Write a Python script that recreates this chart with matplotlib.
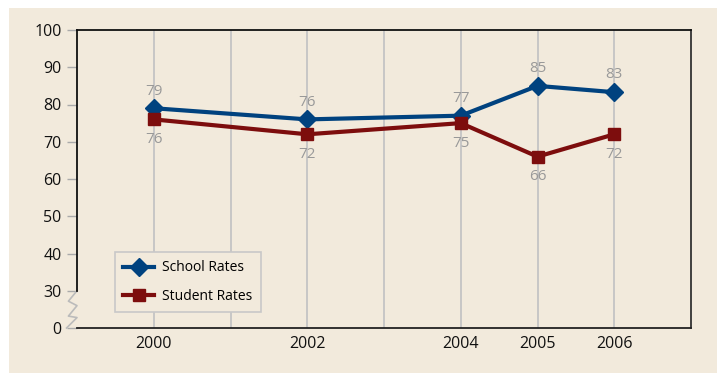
"""School vs student rates, 2000-2006, with broken y axis."""

import matplotlib
matplotlib.use("Agg")
import matplotlib.pyplot as plt
import matplotlib.transforms as mtransforms
from matplotlib.patches import Rectangle

# ---------------------------------------------------------------------------
# Data
# ---------------------------------------------------------------------------

YEARS         = [2000, 2002, 2004, 2005, 2006]
SCHOOL_RATES  = [79, 76, 77, 85, 83.3]
STUDENT_RATES = [76, 72, 75, 66, 72]
SCHOOL_LABELS  = ["79", "76", "77", "85", "83"]
STUDENT_LABELS = ["76", "72", "75", "66", "72"]

GRID_YEARS  = [2000, 2001, 2002, 2003, 2004, 2005, 2006]
Y_TICKS     = [20, 30, 40, 50, 60, 70, 80, 90, 100]   # 20 stands in for 0
Y_TICK_TXT  = ["0", "30", "40", "50", "60", "70", "80", "90", "100"]

BEIGE = "#f2eadc"
BLUE  = "#00427f"
RED   = "#7d0d0d"
GREY  = "#999999"

plt.rcParams["font.family"] = ["Open Sans", "DejaVu Sans"]

# ---------------------------------------------------------------------------
# Figure
# ---------------------------------------------------------------------------

fig = plt.figure(figsize=(7.17, 3.73), dpi=100, facecolor="white")
bg = Rectangle((9 / 717, 0), 1 - 9 / 717, 365 / 373,
               transform=fig.transFigure, facecolor=BEIGE,
               edgecolor="none", zorder=-10)
fig.add_artist(bg)

ax = fig.add_axes([77 / 717, 45 / 373, 614 / 717, 298 / 373])
ax.set_facecolor(BEIGE)
ax.set_xlim(1999, 2007)
ax.set_ylim(20, 100)

for yr in GRID_YEARS:
    ax.axvline(yr, color="#c4c4c4", linewidth=1.3, zorder=1)

ax.plot(YEARS, SCHOOL_RATES, color=BLUE, linewidth=3, marker="D",
        markersize=9, label="School Rates", zorder=3)
ax.plot(YEARS, STUDENT_RATES, color=RED, linewidth=3, marker="s",
        markersize=8, label="Student Rates", zorder=3)

for x, y, t in zip(YEARS, SCHOOL_RATES, SCHOOL_LABELS):
    ax.annotate(t, (x, y), xytext=(0, 7), textcoords="offset points",
                ha="center", va="bottom", color=GREY, fontsize=11)
for x, y, t in zip(YEARS, STUDENT_RATES, STUDENT_LABELS):
    ax.annotate(t, (x, y), xytext=(0, -9), textcoords="offset points",
                ha="center", va="top", color=GREY, fontsize=11)

# — axes styling -----------------------------------------------------------
ax.set_xticks(YEARS)
ax.set_xticklabels([str(y) for y in YEARS])
ax.set_yticks(Y_TICKS)
ax.set_yticklabels(Y_TICK_TXT)
ax.tick_params(axis="x", length=0, pad=6, labelsize=11.5, labelcolor="#111111")
ax.tick_params(axis="y", length=7, width=1, color="#aaaaaa", pad=4,
               labelsize=11.5, labelcolor="#111111")

ax.spines["left"].set_bounds(30, 100)
ax.spines["left"].set_color("#111111")
ax.spines["top"].set_color("#111111")
ax.spines["bottom"].set_color("#222222")
ax.spines["right"].set_color("#333333")
for sp in ax.spines.values():
    sp.set_linewidth(1.3)

# zigzag for the axis break (x in axes fraction, y in data units)
trans = mtransforms.blended_transform_factory(ax.transAxes, ax.transData)
zx = [0.0, -0.014, 0.0, -0.014, 0.0, -0.017]
zy = [30, 27.2, 26.0, 23.2, 22.8, 20]
ax.plot(zx, zy, color="#bbbbbb", linewidth=1.2, transform=trans,
        clip_on=False, zorder=2)

leg = ax.legend(loc="lower left", bbox_to_anchor=(0.062, 0.054),
                borderaxespad=0, fancybox=False, framealpha=1,
                facecolor=BEIGE, edgecolor="#c8c8c8", fontsize=10,
                handlelength=2.2, handletextpad=0.6, labelspacing=0.95,
                borderpad=0.6)
leg.get_frame().set_linewidth(1.2)

fig.savefig("out.png", dpi=100, facecolor=fig.get_facecolor())
